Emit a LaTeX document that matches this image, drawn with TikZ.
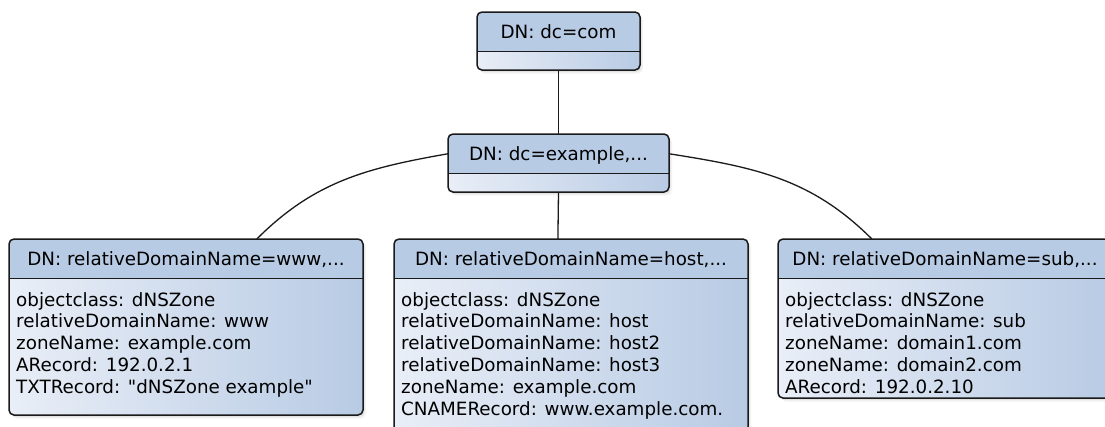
\documentclass[tikz,border=0pt]{standalone}
\usepackage{fontspec}
\setmainfont{DejaVu Sans}[Ligatures=TeXOff]
\usetikzlibrary{shadows,calc}

\definecolor{hdrblue}{HTML}{B8CBE4}
\definecolor{bodylight}{HTML}{E9EEF7}
\definecolor{edgecol}{HTML}{1A1A1A}

\tikzset{
  entry/.style={rounded corners=5pt, inner sep=0pt, outer sep=0pt,
    left color=bodylight, right color=hdrblue,
    drop shadow={shadow xshift=1.5pt, shadow yshift=-2pt, opacity=.14},
    drop shadow={shadow xshift=3pt, shadow yshift=-3.5pt, opacity=.09}},
  edgeline/.style={draw=edgecol, line width=1.5pt},
  hdr/.style={minimum height=39.5pt, text height=13.3pt, text depth=0pt,
    inner sep=0pt, outer sep=0pt, font=\fontsize{18.3pt}{21.8pt}\selectfont},
  attrs/.style={anchor=north west, align=left, inner sep=0pt,
    font=\fontsize{18.3pt}{21.8pt}\selectfont},
  link/.style={draw=edgecol, line width=1.3pt},
}

% an LDAP entry: name, centre, width, height, DN header, attribute lines
\newcommand\ldapentry[6]{%
  \node[entry, minimum width=#3, minimum height=#4] (#1) at (#2) {};
  \fill[hdrblue, rounded corners=5pt] (#1.north west) rectangle ([yshift=-39.5pt]#1.north east);
  \fill[hdrblue] ([yshift=-20pt]#1.north west) rectangle ([yshift=-39.5pt]#1.north east);
  \draw[edgeline] ([yshift=-39.5pt]#1.north west) -- ([yshift=-39.5pt]#1.north east);
  \draw[edgeline, rounded corners=5pt] (#1.north west) rectangle (#1.south east);
  \node[hdr, minimum width=#3, anchor=north] (#1-h) at (#1.north) {#5};
  \node[attrs] (#1-b) at ([xshift=7pt, yshift=-53pt]#1.north west) {#6};
}

\begin{document}
\begin{tikzpicture}[x=1pt, y=1pt]
\clip (0,0) rectangle (1105,-426);
\fill[white] (0,0) rectangle (1105,-426);

\ldapentry{top}{558.5,-41}{163pt}{58pt}{DN: dc=com}{}
\ldapentry{mid}{558.5,-163}{221pt}{58pt}{DN: dc=example,...}{}

\ldapentry{www}{186,-327}{354pt}{176pt}{DN: relativeDomainName=www,...}{%
objectclass: dNSZone\\
relativeDomainName: www\\
zoneName: example.com\\
ARecord: 192.0.2.1\\
TXTRecord: "dNSZone example"}

\ldapentry{host}{571,-342}{354pt}{206pt}{DN: relativeDomainName=host,...}{%
objectclass: dNSZone\\
relativeDomainName: host\\
relativeDomainName: host2\\
relativeDomainName: host3\\
zoneName: example.com\\
CNAMERecord: www.example.com.}

\ldapentry{sub}{945,-318.5}{334pt}{159pt}{DN: relativeDomainName=sub,...}{%
objectclass: dNSZone\\
relativeDomainName: sub\\
zoneName: domain1.com\\
zoneName: domain2.com\\
ARecord: 192.0.2.10}

% tree connectors
\draw[link] (top.south) -- (mid.north);
\draw[link] (mid-h.west) to[out=190, in=45] ($(www.north west)!0.70!(www.north east)$);
\draw[link] (mid-h.east) to[out=-9, in=135] ($(sub.north west)!0.281!(sub.north east)$);
\draw[link] (mid.south) -- ($(host.north west)!0.463!(host.north east)$);
\end{tikzpicture}
\end{document}
